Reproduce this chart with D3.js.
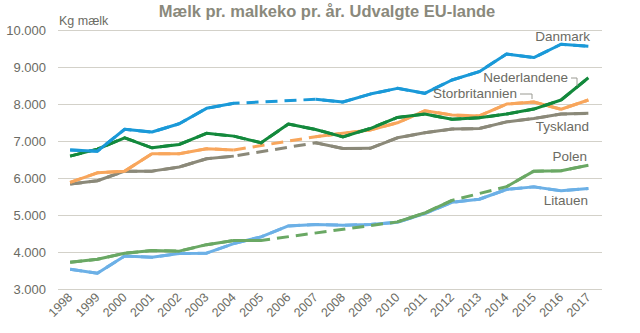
<!DOCTYPE html>
<html>
<head>
<meta charset="utf-8">
<script src="https://cdn.jsdelivr.net/npm/d3@7"></script>
<style>
  body { margin: 0; background: #fff; }
  svg { font-family: "Liberation Sans Narrow", "Arial Narrow", "Liberation Sans", sans-serif; }
</style>
</head>
<body>
<div id="chart"></div>
<script>
// years on the x axis
const years = d3.range(1998, 2018).map(String);
const yTicks = [3000, 4000, 5000, 6000, 7000, 8000, 9000, 10000];

// kg milk per cow per year (null = no figure, bridged by a dashed line)
const danmark = [6760, 6730, 7320, 7245, 7470, 7885, 8020, null, null, 8130, 8055, 8270, 8425, 8290, 8650, 8875, 9350, 9255, 9615, 9560];
const nederlandene = [6595, 6785, 7090, 6820, 6910, 7210, 7135, 6955, 7460, 7315, 7115, 7340, 7640, 7730, 7590, 7630, 7730, 7865, 8110, 8710];
const storbritannien = [5885, 6145, 6190, 6660, 6660, 6795, 6760, null, null, 7120, 7210, 7300, 7495, 7820, 7705, 7680, 8000, 8055, 7860, 8110];
const tyskland = [5840, 5930, 6190, 6190, 6300, 6525, 6595, null, null, 6955, 6800, 6805, 7090, 7225, 7325, 7340, 7520, 7610, 7730, 7750];
const polen = [3730, 3810, 3975, 4045, 4030, 4205, 4315, 4320, null, null, null, null, 4820, 5060, 5400, null, 5770, 6190, 6200, 6350];
const litauen = [3540, 3435, 3900, 3865, 3965, 3975, 4235, 4415, 4710, 4750, 4730, 4750, 4810, 5045, 5350, 5430, 5695, 5765, 5660, 5720];

const series = [
  {name: "Tyskland", values: tyskland, color: "#8b8979"},
  {name: "Storbritannien", values: storbritannien, color: "#f8a65c"},
  {name: "Nederlandene", values: nederlandene, color: "#13893c"},
  {name: "Danmark", values: danmark, color: "#1a99d8"},
  {name: "Litauen", values: litauen, color: "#6cb0e6"},
  {name: "Polen", values: polen, color: "#6aa864"}
];

const width = 640, height = 333;
const x = d3.scalePoint().domain(years).range([56.5, 602]).padding(0.5);
const y = d3.scaleLinear().domain([3000, 10000]).range([289.3, 30]);

const svg = d3.select("#chart").append("svg")
  .attr("width", width)
  .attr("height", height);

// gridlines
svg.append("g").selectAll("line")
  .data(yTicks)
  .join("line")
  .attr("x1", 58).attr("x2", 602)
  .attr("y1", d => Math.round(y(d)) + 0.5).attr("y2", d => Math.round(y(d)) + 0.5)
  .attr("stroke", "#d3d1c9")
  .attr("stroke-width", 1.2);

// y axis labels
const fmt = d => d3.format(",")(d).replace(",", ".");
svg.append("g").selectAll("text")
  .data(yTicks)
  .join("text")
  .attr("x", 46)
  .attr("y", d => y(d) + 4.5)
  .attr("text-anchor", "end")
  .attr("font-size", 13)
  .attr("fill", "#6b6b63")
  .text(fmt);

svg.append("text")
  .attr("x", 59).attr("y", 25)
  .attr("font-size", 12.5)
  .attr("fill", "#6b6b63")
  .text("Kg mælk");

// x axis labels, rotated
svg.append("g").selectAll("text")
  .data(years)
  .join("text")
  .attr("transform", d => `translate(${x(d) + 3},${298}) rotate(-45)`)
  .attr("text-anchor", "end")
  .attr("font-size", 12.5)
  .attr("fill", "#6b6b63")
  .text(d => d);

// title
svg.append("text")
  .attr("x", 327).attr("y", 17)
  .attr("text-anchor", "middle")
  .attr("font-size", 16.5)
  .attr("font-weight", 700)
  .attr("fill", "#8a897c")
  .text("Mælk pr. malkeko pr. år. Udvalgte EU-lande");

const line = d3.line()
  .defined(d => d.v != null)
  .x(d => x(d.year))
  .y(d => y(d.v));

series.forEach(s => {
  const pts = s.values.map((v, i) => ({year: years[i], v}));
  // dashed bridge across the missing years
  svg.append("path")
    .datum(pts.filter(d => d.v != null))
    .attr("d", line)
    .attr("fill", "none")
    .attr("stroke", s.color)
    .attr("stroke-width", 3)
    .attr("stroke-dasharray", "12,7");
  svg.append("path")
    .datum(pts)
    .attr("d", line)
    .attr("fill", "none")
    .attr("stroke", s.color)
    .attr("stroke-width", 3)
    .attr("stroke-linejoin", "round");
});

// series labels
const labels = [
  {text: "Danmark", x: 590, y: 41},
  {text: "Nederlandene", x: 568, y: 82, leader: [[571, 78], [577, 78], [577, 86]]},
  {text: "Storbritannien", x: 517, y: 98, leader: [[520, 94], [532, 94], [532, 99]]},
  {text: "Tyskland", x: 589, y: 131},
  {text: "Polen", x: 587, y: 161},
  {text: "Litauen", x: 588, y: 205}
];
svg.append("g").selectAll("text")
  .data(labels)
  .join("text")
  .attr("x", d => d.x).attr("y", d => d.y)
  .attr("text-anchor", "end")
  .attr("font-size", 13.5)
  .attr("fill", "#6b6b63")
  .text(d => d.text);

svg.append("g").selectAll("path")
  .data(labels.filter(d => d.leader))
  .join("path")
  .attr("d", d => d3.line()(d.leader))
  .attr("fill", "none")
  .attr("stroke", "#9a9a92")
  .attr("stroke-width", 1);
</script>
</body>
</html>
